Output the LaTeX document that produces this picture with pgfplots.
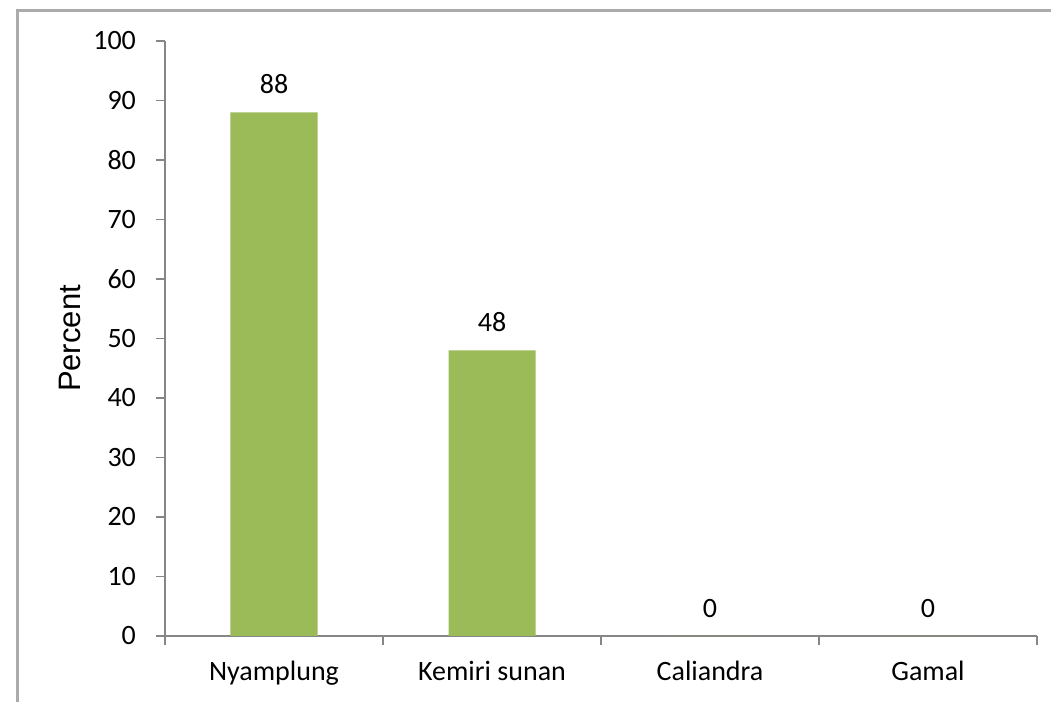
\documentclass[border=0pt]{standalone}
\usepackage{pgfplots}
\pgfplotsset{compat=1.18}
\usepackage{fontspec}
\setmainfont{Carlito}
\newfontfamily\labelfont{Liberation Sans}
\definecolor{bargreen}{HTML}{9BBB59}
\definecolor{axisgray}{HTML}{868686}
\definecolor{framegray}{HTML}{ABABAB}

\begin{document}
\begin{tikzpicture}
% page area
\path[use as bounding box] (0pt,0pt) rectangle (525.5pt,351pt);
% outer chart frame
\draw[framegray, line width=1.5pt] (8.5pt,-3pt) -- (8.5pt,345.5pt) -- (530pt,345.5pt);
\begin{axis}[
  at={(82.5pt,33pt)}, anchor=south west,
  scale only axis, width=436pt, height=297.5pt,
  xmin=-0.5, xmax=3.5, ymin=0, ymax=100,
  axis lines*=left,
  axis line style={axisgray, line width=0.8pt},
  ytick={0,10,...,100},
  xtick={-0.5,0.5,1.5,2.5,3.5}, xticklabels={},
  extra x ticks={0,1,2,3},
  extra x tick labels={Nyamplung,Kemiri sunan,Caliandra,Gamal},
  extra x tick style={major tick length=0pt},
  tick align=outside, major tick length=4.5pt,
  tick style={axisgray, line width=0.8pt},
  /pgf/number format/assume math mode=true,
  tick label style={font=\fontsize{14}{16}\selectfont, text=black},
  yticklabel style={xshift=-6.5pt},
  xticklabel style={yshift=-9pt},
  ylabel={Percent},
  every axis y label/.style={at={(rel axis cs:0,0.5)}, rotate=90, yshift=47.5pt, anchor=center,
    font=\labelfont\fontsize{15.5}{18}\selectfont},
  ybar, bar width=43.5pt,
  nodes near coords,
  every node near coord/.append style={font=\fontsize{14}{16}\selectfont, anchor=south, inner sep=0pt, yshift=9pt},
  clip=false,
]
\addplot[fill=bargreen, draw=none] coordinates {(0,88) (1,48) (2,0) (3,0)};
\end{axis}
\end{tikzpicture}
\end{document}
